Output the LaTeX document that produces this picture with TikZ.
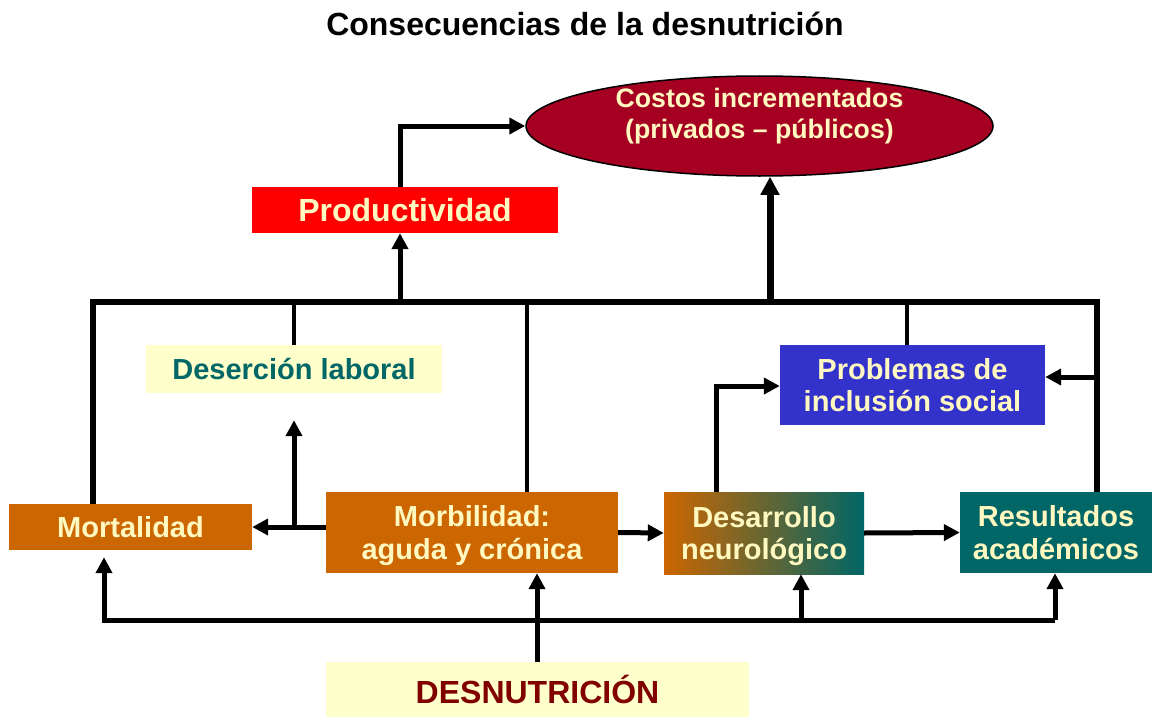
\documentclass[tikz,border=0pt]{standalone}
\usepackage{fontspec}
\setmainfont{Liberation Sans}
\usetikzlibrary{arrows.meta,shapes.geometric}
\definecolor{cream}{HTML}{FFF8C0}
\definecolor{paleyellow}{HTML}{FFFFCC}
\definecolor{teal}{HTML}{006666}
\definecolor{orangebox}{HTML}{CC6600}
\definecolor{brownmid}{HTML}{8A6248}
\definecolor{bluebox}{HTML}{3333CC}
\definecolor{wine}{HTML}{A50021}
\definecolor{darkred}{HTML}{800000}
\tikzset{
  box/.style={rectangle, inner sep=0pt, align=center, text depth=0pt, font=\bfseries\fontsize{29}{32.5}\selectfont, text=cream},
  ln/.style={line width=5pt, line join=miter},
  thin/.style={line width=4.5pt},
  bus/.style={line width=6pt, line join=miter},
  arr/.style={line width=5pt, line join=miter, -{Triangle[length=16pt,width=16pt]}},
  bigarr/.style={line width=7pt, -{Triangle[length=18pt,width=18pt]}},
}
\begin{document}
\begin{tikzpicture}[x=1pt,y=-1pt]
\useasboundingbox (0,0) rectangle (1154,717);
% nodes
\node[font=\bfseries\fontsize{32}{36}\selectfont] (title) at (585,24) {Consecuencias de la desnutrición};
\node[ellipse, draw=black, line width=1.5pt, fill=wine, minimum width=467pt, minimum height=100pt, inner sep=0pt] (cost) at (759.5,126) {};
\node[align=center, inner sep=0pt, text=cream, font=\bfseries\fontsize{26.7}{31}\selectfont] (costtext) at (759.5,116) {Costos incrementados\\(privados -- públicos)};
\node[box, fill=red, minimum width=306pt, minimum height=46pt, font=\bfseries\fontsize{32}{36}\selectfont] (prod) at (405,210) {Productividad};
\node[box, fill=paleyellow, text=teal, minimum width=296pt, minimum height=48pt] (deser) at (294,369) {Deserción laboral};
\node[box, fill=bluebox, minimum width=265pt, minimum height=80pt] (prob) at (912.5,385) {Problemas de\\inclusión social};
\node[box, fill=orangebox, minimum width=243pt, minimum height=46pt] (mort) at (130.5,527) {Mortalidad};
\node[box, fill=orangebox, minimum width=292pt, minimum height=81pt] (morb) at (472,532.5) {Morbilidad:\\aguda y crónica};
\node[box, left color=orangebox, middle color=brownmid, right color=teal, minimum width=200pt, minimum height=82pt] (desa) at (764,533) {Desarrollo\\neurológico};
\node[box, fill=teal, minimum width=192pt, minimum height=81pt] (resu) at (1056,532.5) {Resultados\\académicos};
\node[box, fill=paleyellow, text=darkred, minimum width=423pt, minimum height=55pt, font=\bfseries\fontsize{32}{36}\selectfont] (desn) at (537.5,689.5) {DESNUTRICIÓN};
% coordinates
\coordinate (bl) at (93,302);
\coordinate (br) at (1097,302);
\coordinate (b1) at (400,302);
\coordinate (b2) at (770,302);
\coordinate (b3) at (527,302);
\coordinate (b4) at (907,302);
\coordinate (p1) at (400,126);
\coordinate (r1) at (1097,377);
\coordinate (d1) at (294,527);
\coordinate (q) at (716,386);
\coordinate (c1) at (104,620);
\coordinate (c2) at (801,620);
\coordinate (c3) at (537,620);
\coordinate (c4) at (1055,620);
% upper bus
\draw[bus] (mort.north -| bl) -- (bl) -- (br) -- (resu.north -| br);
\draw[thin] (b3) -- (b3 |- morb.north);
\draw[thin] (b4) -- (b4 |- prob.north);
\draw[thin] (deser.north) -- (deser.north |- bl);
\draw[arr] (b1) -- (b1 |- prod.south);
\draw[bigarr] (b2) -- (b2 |- cost.south);
\draw[arr] (p1 |- prod.north) -- (p1) -- (cost.west);
\draw[arr] (r1) -- (r1 -| prob.east);
% middle
\draw[arr] (morb.west |- mort.east) -- (mort.east);
\draw[arr, shorten >=27pt] (d1) -- (d1 |- deser.south);
\draw[arr] (morb.east) -- (desa.west);
\draw[arr] (desa.east) -- (resu.west);
\draw[arr] (q |- desa.north) -- (q) -- (q -| prob.west);
% lower bus
\draw[arr, shorten >=7pt] (c4) -- (c1) -- (c1 |- mort.south);
\draw[arr] (c4) -- (c4 |- resu.south);
\draw[arr] (c2) -- (c2 |- desa.south);
\draw[arr] (desn.north -| c3) -- (c3 |- morb.south);
\end{tikzpicture}
\end{document}
